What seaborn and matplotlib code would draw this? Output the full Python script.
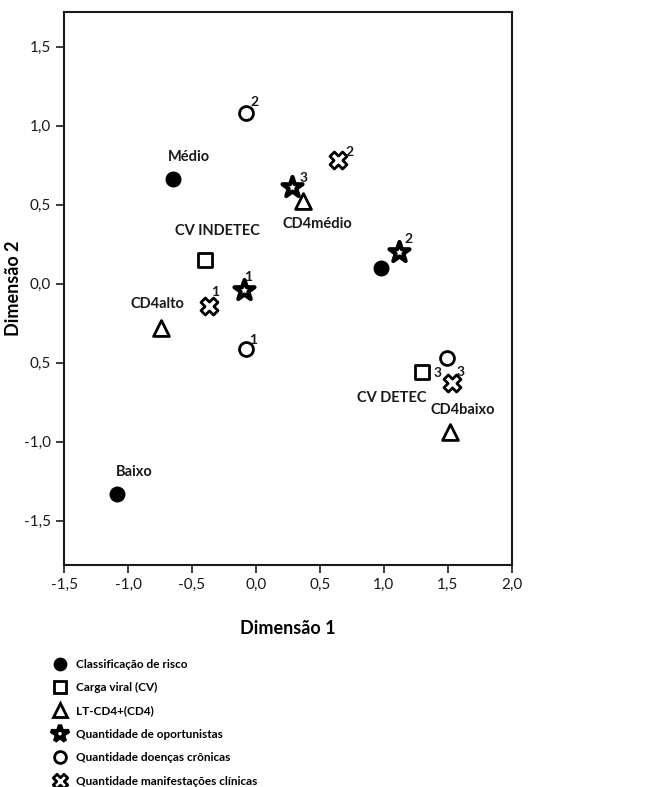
import numpy as np
import pandas as pd
import matplotlib
matplotlib.use("Agg")
import matplotlib.pyplot as plt
import seaborn as sns
from matplotlib.path import Path
from matplotlib.lines import Line2D

# Coordenadas (Dimensão 1, Dimensão 2)
risco_x = [-0.65, 0.98, -1.09]
risco_y = [0.66, 0.10, -1.33]
cv_x = [-0.40, 1.30]
cv_y = [0.15, -0.56]
cd4_x = [0.37, -0.74, 1.52]
cd4_y = [0.52, -0.28, -0.94]
opo_x = [0.28, 1.12, -0.09]
opo_y = [0.61, 0.20, -0.04]
cron_x = [-0.08, -0.08, 1.49]
cron_y = [1.08, -0.41, -0.47]
manif_x = [0.64, -0.37, 1.53]
manif_y = [0.78, -0.14, -0.63]

grupos = ["Classificação de risco", "Carga viral (CV)", "LT-CD4+(CD4)",
          "Quantidade de oportunistas", "Quantidade doenças crônicas",
          "Quantidade manifestações clínicas"]

# rótulos de categoria
nomes = ["Médio", "CV INDETEC", "CD4médio", "CD4alto", "Baixo", "CV DETEC", "CD4baixo"]
nomes_x = [-0.52, -0.30, 0.48, -0.77, -0.95, 1.06, 1.62]
nomes_y = [0.80, 0.335, 0.38, -0.13, -1.19, -0.72, -0.80]

# números sobrescritos
nums = ["2", "2", "3", "2", "1", "1", "1", "3", "3"]
nums_x = [-0.015, 0.73, 0.375, 1.195, -0.06, -0.32, -0.02, 1.42, 1.60]
nums_y = [1.15, 0.835, 0.67, 0.28, 0.04, -0.05, -0.355, -0.565, -0.56]

frames = []
for g, xs, ys in zip(grupos, [risco_x, cv_x, cd4_x, opo_x, cron_x, manif_x],
                     [risco_y, cv_y, cd4_y, opo_y, cron_y, manif_y]):
    frames.append(pd.DataFrame({"x": xs, "y": ys, "grupo": g}))
df = pd.concat(frames, ignore_index=True)

# marcador "X" vazado (cruz grossa girada)
a, b = 0.35, 1.0
cruz = [(-a, b), (a, b), (a, a), (b, a), (b, -a), (a, -a), (a, -b), (-a, -b),
        (-a, -a), (-b, -a), (-b, a), (-a, a), (-a, b)]
ang = np.deg2rad(45)
rot = [(px * np.cos(ang) - py * np.sin(ang), px * np.sin(ang) + py * np.cos(ang)) for px, py in cruz]
cruz_path = Path(rot, [Path.MOVETO] + [Path.LINETO] * (len(rot) - 2) + [Path.CLOSEPOLY])

estilos = {
    grupos[0]: dict(marker="o", s=110, facecolor="black", lw=1.0),
    grupos[1]: dict(marker="s", s=95, facecolor="white", lw=2.0),
    grupos[2]: dict(marker="^", s=130, facecolor="white", lw=2.0),
    grupos[3]: dict(marker="*", s=230, facecolor="white", lw=3.0),
    grupos[4]: dict(marker="o", s=100, facecolor="white", lw=2.0),
    grupos[5]: dict(marker=cruz_path, s=150, facecolor="white", lw=2.0),
}

plt.rcParams["font.family"] = ["Lato", "DejaVu Sans"]

fig = plt.figure(figsize=(6.47, 7.87), dpi=100)
ax = fig.add_axes([0.099, 0.282, 0.692, 0.703])

for g in grupos:
    st = estilos[g]
    sns.scatterplot(data=df[df.grupo == g], x="x", y="y", marker=st["marker"], s=st["s"],
                    color=st["facecolor"], edgecolor="black", linewidth=st["lw"], ax=ax,
                    legend=False, zorder=3)

for t, x, y in zip(nomes, nomes_x, nomes_y):
    ax.text(x, y, t, fontsize=10.5, fontweight="bold", ha="center", va="center", color="#1a1a1a")
for t, x, y in zip(nums, nums_x, nums_y):
    ax.text(x, y, t, fontsize=10, fontweight="bold", ha="center", va="center", color="#1a1a1a")

ax.set_xlim(-1.5, 2.0)
ax.set_ylim(-1.78, 1.72)
ax.set_xticks([-1.5, -1.0, -0.5, 0.0, 0.5, 1.0, 1.5, 2.0])
ax.set_xticklabels(["-1,5", "-1,0", "-0,5", "0,0", "0,5", "1,0", "1,5", "2,0"])
ax.set_yticks([1.5, 1.0, 0.5, 0.0, -0.5, -1.0, -1.5])
ax.set_yticklabels(["1,5", "1,0", "0,5", "0,0", "0,5", "-1,0", "-1,5"])
ax.tick_params(axis="both", labelsize=11, length=6, width=1.2, direction="out", colors="#1a1a1a")
for sp in ax.spines.values():
    sp.set_linewidth(1.5)
    sp.set_color("#1a1a1a")
ax.set_xlabel("Dimensão 1", fontsize=13, fontweight="bold")
ax.xaxis.set_label_coords(0.5, -0.10)
ax.set_ylabel("Dimensão 2", fontsize=13, fontweight="bold")
ax.yaxis.set_label_coords(-0.093, 0.5)

handles = []
for g in grupos:
    st = estilos[g]
    ms = np.sqrt(st["s"]) * 0.85
    handles.append(Line2D([], [], linestyle="none", marker=st["marker"], markersize=ms,
                          markerfacecolor=st["facecolor"], markeredgecolor="black",
                          markeredgewidth=st["lw"]))
leg = fig.legend(handles, grupos, loc="upper left", bbox_to_anchor=(0.072, 0.169),
                 frameon=False, prop={"size": 8.5, "weight": "bold"},
                 labelspacing=1.05, handletextpad=0.6, handlelength=1.5, borderaxespad=0)

fig.savefig("out.png", dpi=100)
